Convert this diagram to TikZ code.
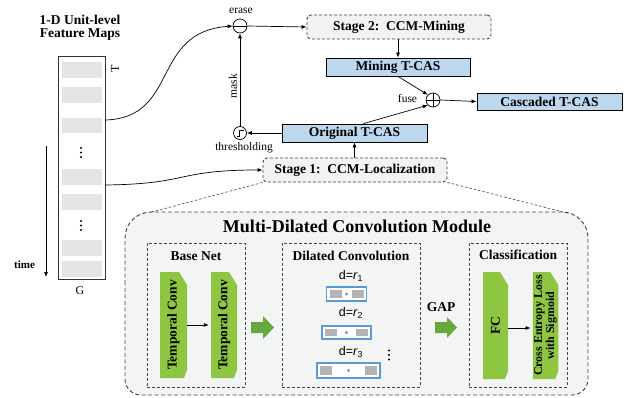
\documentclass[tikz,border=0pt]{standalone}
\usepackage{fontspec}
\setmainfont{Liberation Serif}
\newfontfamily\dsans{Liberation Sans}
\usepackage{graphicx}
\usetikzlibrary{arrows.meta}
\definecolor{stagefill}{HTML}{F1F2F2}
\definecolor{modfill}{HTML}{F3F4F4}
\definecolor{tblue}{HTML}{BDD7EE}
\definecolor{lgreen}{HTML}{8EC641}
\definecolor{dgreen}{HTML}{66A83C}
\definecolor{kblue}{HTML}{5B9BD5}
\definecolor{kgray}{HTML}{B3B3B3}
\definecolor{bargray}{HTML}{E4E4E4}
\definecolor{dashgray}{HTML}{444444}
\begin{document}
\begin{tikzpicture}[x=1pt,y=-1pt,
  arr/.style={-{Latex[length=5pt,width=4pt]},line width=0.7pt},
  bigfont/.style={font=\fontsize{13.5}{15}\selectfont\bfseries},
  small/.style={font=\fontsize{11.5}{13}\selectfont},
  stagebox/.style={draw=dashgray,dash pattern=on 3pt off 2pt,line width=0.9pt,rounded corners=4pt,fill=stagefill,minimum width=184pt,minimum height=24pt,bigfont,inner sep=0pt},
  tcas/.style={draw=black,line width=0.8pt,fill=tblue,minimum height=18pt,minimum width=145pt,bigfont,inner sep=0pt},
  opcirc/.style={draw=black,circle,line width=0.7pt,minimum size=14pt,inner sep=0pt},
  subbox/.style={draw=dashgray,dash pattern=on 3pt off 2pt,line width=0.8pt},
  layerbox/.style={inner sep=0pt,bigfont,path picture={\fill[lgreen] (path picture bounding box.north west) -- ([xshift=-8pt]path picture bounding box.north east) -- ([yshift=-13pt]path picture bounding box.north east) -- ([yshift=8pt]path picture bounding box.south east) -- ([xshift=-3pt]path picture bounding box.south east) -- (path picture bounding box.south west) -- cycle;}},
  kern/.style={draw=kblue,line width=1.8pt,fill=white,inner sep=0pt,path picture={
    \fill[kgray] ([shift={(3pt,3pt)}]path picture bounding box.south west) rectangle ([shift={(15pt,-3pt)}]path picture bounding box.north west);
    \fill[kgray] ([shift={(-15pt,3pt)}]path picture bounding box.south east) rectangle ([shift={(-3pt,-3pt)}]path picture bounding box.north east);
    \fill[kblue] (path picture bounding box.center) circle (1.6pt);}},
  dlabel/.style={font=\fontsize{12.5}{14}\selectfont\dsans}
]
\useasboundingbox[fill=white] (0,0) rectangle (636,398);

% ---------- feature maps ----------
\node[bigfont,align=center] (fmtitle) at (80,28) {1-D Unit-level\\[-2pt]Feature Maps};
\node[draw=black!80,line width=1pt,fill=white,minimum width=47pt,minimum height=222pt,inner sep=0pt] (fm) at (81.5,168) {};
\foreach \a/\b in {62/78,87/103,118/133,169/185,194/210,240/256,261/277}
  \fill[bargray] (61.5,\a) rectangle (102,\b);
\foreach \y in {148,152.5,157,221,225.5,230}
  \fill[black] (81,\y) circle (1.2pt);
\node[font=\fontsize{12}{14}\selectfont,rotate=90] (Tl) at (115,69) {T};
\node[font=\fontsize{12}{14}\selectfont] (Gl) at (80,291) {G};
\node[font=\fontsize{11}{13}\selectfont\bfseries] (timel) at (24.5,265) {time};
\coordinate (ts) at (46,146);
\coordinate (te) at (46,277);
\draw[arr] (ts) -- (te);
\coordinate (f1) at (105,120);
\coordinate (f2) at (105,185);

% ---------- top pipeline ----------
\node[opcirc] (er) at (240,26) {};
\draw[line width=0.7pt] (er.west) -- (er.east);
\node[small] (erl) at (241,11) {erase};
\node[stagebox] (s2) at (399,27) {Stage 2:\ \ CCM-Mining};
\node[tcas,minimum width=144pt] (mining) at (398,67) {Mining T-CAS};
\node[opcirc] (fuse) at (433,100) {};
\draw[line width=0.7pt] (fuse.west) -- (fuse.east) (fuse.north) -- (fuse.south);
\node[small] (fusel) at (407.5,99) {fuse};
\node[tcas,minimum height=17pt] (casc) at (549.5,101.5) {Cascaded T-CAS};
\node[tcas] (orig) at (354.5,133) {Original T-CAS};
\node[opcirc,minimum size=13pt] (thr) at (240,133) {};
\draw[line width=0.7pt] ([shift={(-3.5pt,-3pt)}]thr.center) -- ([shift={(-0.3pt,-3pt)}]thr.center) -- ([shift={(-0.3pt,3pt)}]thr.center) -- ([shift={(3.5pt,3pt)}]thr.center);
\node[small] (thrl) at (244,148) {thresholding};
\node[small,rotate=90] (maskl) at (233,86) {mask};
\node[stagebox] (s1) at (355,170) {Stage 1:\ \ CCM-Localization};

\draw[line width=0.7pt,-{Latex[length=5pt,width=4pt]}] (f1) .. controls (180,118) and (150,32) .. (er.west);
\draw[line width=0.7pt,-{Latex[length=5pt,width=4pt]}] (f2) .. controls (190,184) and (175,170) .. (s1.west);
\draw[arr] (er.east) -- (s2.west);
\draw[arr] (s2.south -| mining.north) -- (mining.north);
\draw[arr] (mining.south) -- (fuse.north west);
\draw[arr] ([xshift=9pt]orig.north) -- (fuse.south west);
\draw[arr] (fuse.east) -- (casc.west);
\draw[arr] (orig.west) -- (thr.east);
\draw[arr] (thr.north) -- (er.south);
\draw[arr] (s1.north -| orig.south) -- (orig.south);

% ---------- module ----------
\draw[draw=dashgray,fill=modfill,dash pattern=on 4pt off 2.5pt,line width=0.9pt]
  (125,300) [rounded corners=26pt] -- (125,212) -- (588,212) -- (588,300) [rounded corners=16pt] -- (588,395) -- (125,395) -- cycle;
\coordinate (modtl) at (150,212.5);
\coordinate (modtr) at (569,213.5);
\draw[dashgray,dash pattern=on 2.5pt off 2pt,line width=0.6pt] (s1.south west) -- (modtl);
\draw[dashgray,dash pattern=on 2.5pt off 2pt,line width=0.6pt] (s1.south east) -- (modtr);
\node[font=\fontsize{18}{20}\selectfont\bfseries] (modtitle) at (357,226) {Multi-Dilated Convolution Module};

% Base net
\node[subbox,minimum width=98pt,minimum height=144pt,inner sep=0pt] (basebox) at (196,315) {};
\node[bigfont] (basel) at (196,256) {Base Net};
\node[layerbox,minimum width=27pt,minimum height=106pt] (tc1) at (173.5,325) {\rotatebox{90}{Temporal Conv}};
\node[layerbox,minimum width=26pt,minimum height=106pt] (tc2) at (224,325) {\rotatebox{90}{Temporal Conv}};
\draw[arr,shorten >=2pt] (tc1.east) -- (tc2.west);

\fill[dgreen] (251,322) -- (263,322) -- (263,316) -- (274,327.5) -- (263,339) -- (263,333) -- (251,333) -- cycle;

% Dilated
\node[subbox,minimum width=138pt,minimum height=144pt,inner sep=0pt] (dilbox) at (351,315) {};
\node[bigfont] (dill) at (351,256) {Dilated Convolution};
\node[dlabel] (d1) at (351,276) {d=\textit{r}\textsubscript{1}};
\node[kern,minimum width=40pt,minimum height=14pt] (k1) at (346.5,294) {};
\node[dlabel] (d2) at (351,313) {d=\textit{r}\textsubscript{2}};
\node[kern,minimum width=49pt,minimum height=13.5pt] (k2) at (346.5,332.5) {};
\node[dlabel] (d3) at (351,352) {d=\textit{r}\textsubscript{3}};
\node[kern,minimum width=63pt,minimum height=15pt] (k3) at (348.5,370.5) {};
\foreach \y in {350.5,355,359.5}
  \fill[black] (389,\y) circle (1.1pt);

\node[bigfont] (gapl) at (441,307) {GAP};
\fill[dgreen] (435,322) -- (447,322) -- (447,317) -- (457,327.5) -- (447,338) -- (447,333) -- (435,333) -- cycle;

% Classification
\node[subbox,minimum width=98pt,minimum height=144pt,inner sep=0pt] (clsbox) at (518,315) {};
\node[bigfont] (clsl) at (518,255) {Classification};
\node[layerbox,minimum width=25pt,minimum height=107pt] (fc) at (495.5,325.5) {\rotatebox{90}{FC}};
\node[layerbox,minimum width=25pt,minimum height=107pt,font=\fontsize{12}{13.5}\selectfont\bfseries] (ce) at (545.5,325.5) {\rotatebox{90}{\begin{tabular}{@{}c@{}}Cross Entropy Loss\\[-1.5pt]with Sigmoid\end{tabular}}};
\draw[arr,shorten >=2pt] ([yshift=-2.5pt]fc.east) -- ([yshift=-2.5pt]ce.west);
\end{tikzpicture}
\end{document}
